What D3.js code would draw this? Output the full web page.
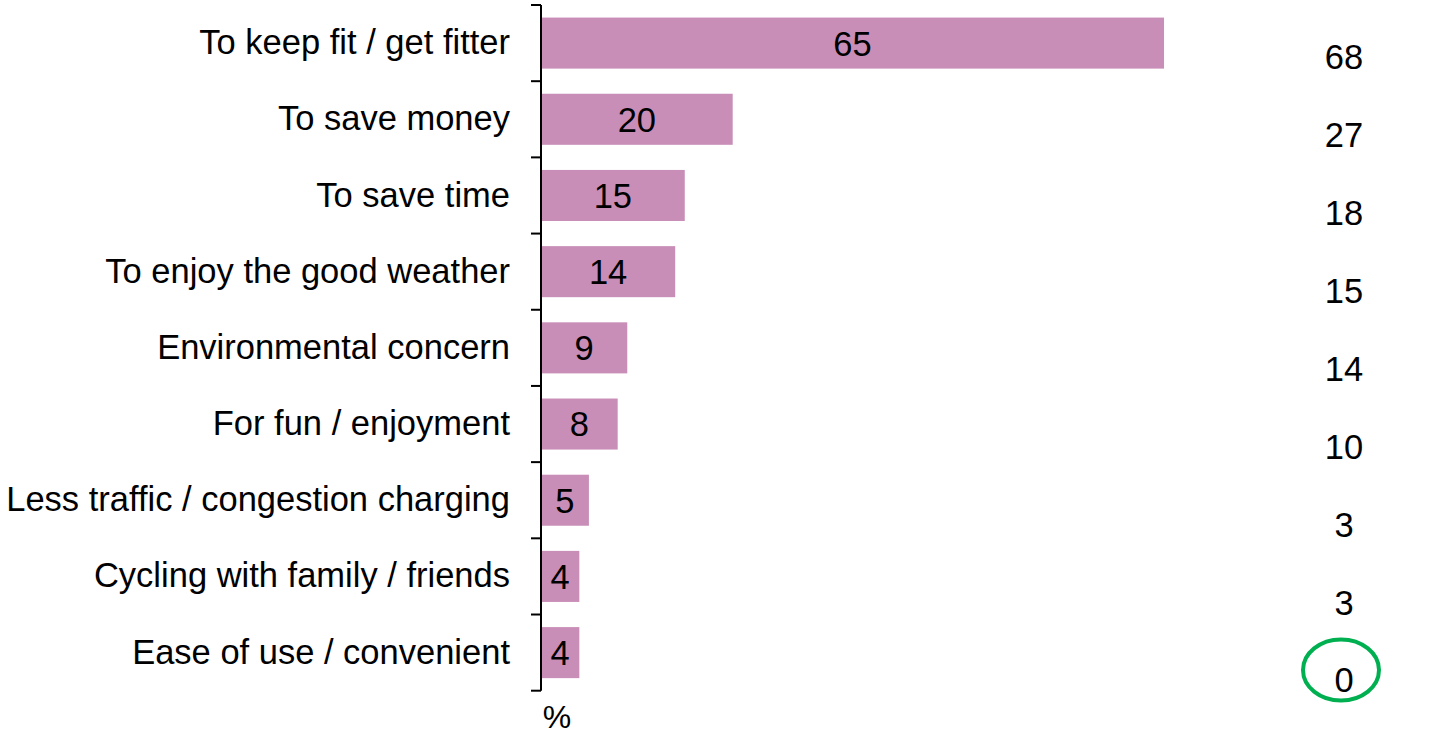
<!DOCTYPE html>
<html><head><meta charset="utf-8">
<script src="https://cdn.jsdelivr.net/npm/d3@7"></script>
<style>body{margin:0;background:#fff;} svg{display:block;} text{font-family:"Liberation Sans",Arial,sans-serif;fill:#000;}</style>
</head><body>
<svg id="c" width="1454" height="736"></svg>
<script>
const categories = ["To keep fit / get fitter","To save money","To save time","To enjoy the good weather","Environmental concern","For fun / enjoyment","Less traffic / congestion charging","Cycling with family / friends","Ease of use / convenient"];
const values = [65,20,15,14,9,8,5,4,4];
const compareValues = [68,27,18,15,14,10,3,3,0];
const highlightIndex = 8;
const unitLabel = "%";

const svg = d3.select("#c");
const fs = 34.5;
const x = d3.scaleLinear().domain([0,100]).range([541, 1499.5]);
const y = d3.scaleBand().domain(categories).range([5, 690.7]).paddingInner(0.33).paddingOuter(0.165);
const yc = d3.scalePoint().domain(categories).range([57, 680]);

svg.selectAll("rect.bar").data(values).join("rect")
  .attr("x", x(0)+1).attr("y", (d,i)=>y(categories[i]))
  .attr("width", d=>x(d)-x(0)-1).attr("height", y.bandwidth())
  .attr("fill", "#C98EB8");

svg.selectAll("text.val").data(values).join("text")
  .attr("x", d=>(x(0)+x(d))/2).attr("y", (d,i)=>y(categories[i])+y.bandwidth()/2)
  .attr("dy","0.36em").attr("text-anchor","middle").attr("font-size",fs).text(d=>d);

const axis = d3.axisLeft(y).tickSize(0).tickPadding(31);
const g = svg.append("g").attr("transform",`translate(${x(0)},0)`).call(axis);
g.select(".domain").attr("stroke","#000").attr("stroke-width",2).attr("d","M0,5V690.7");
g.selectAll(".tick text").attr("font-size",fs).attr("font-family","Liberation Sans, Arial, sans-serif").attr("fill","#000");
const bounds = d3.range(categories.length+1).map(i=>5 + i*y.step());
g.selectAll("line.bt").data(bounds).join("line").attr("class","bt")
  .attr("x1",-10).attr("x2",0).attr("y1",d=>d).attr("y2",d=>d).attr("stroke","#000").attr("stroke-width",2);

svg.selectAll("text.cmp").data(compareValues).join("text")
  .attr("x",1344).attr("y",(d,i)=>yc(categories[i])).attr("dy","0.36em")
  .attr("text-anchor","middle").attr("font-size",fs).text(d=>d);

svg.append("ellipse").attr("cx",1341).attr("cy",670).attr("rx",38).attr("ry",30.5)
  .attr("fill","none").attr("stroke","#00B050").attr("stroke-width",4);

svg.append("text").attr("x",557).attr("y",728).attr("text-anchor","middle")
  .attr("font-size",32).text(unitLabel);
</script>
</body></html>
